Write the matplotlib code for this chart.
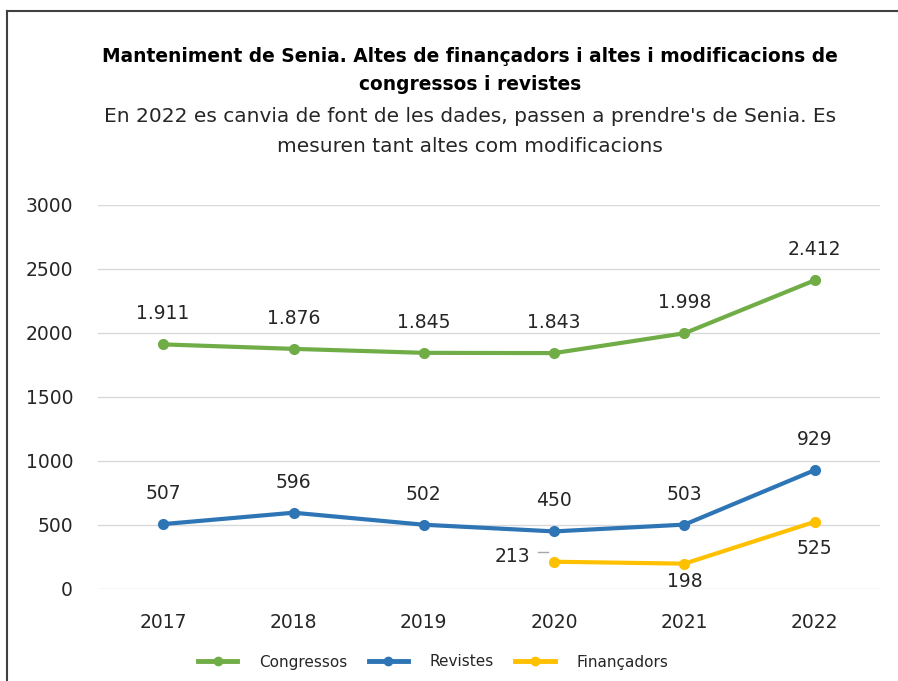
import matplotlib
matplotlib.use("Agg")
import matplotlib.pyplot as plt
from matplotlib.lines import Line2D

years = ["2017", "2018", "2019", "2020", "2021", "2022"]
congressos = [1911, 1876, 1845, 1843, 1998, 2412]
revistes = [507, 596, 502, 450, 503, 929]
fin_years = ["2020", "2021", "2022"]
financadors = [213, 198, 525]
yticks = [0, 500, 1000, 1500, 2000, 2500, 3000]

title_lines = ["Manteniment de Senia. Altes de finançadors i altes i modificacions de",
               "congressos i revistes"]
subtitle_lines = ["En 2022 es canvia de font de les dades, passen a prendre's de Senia. Es",
                  "mesuren tant altes com modificacions"]

GREEN = "#70AD47"
BLUE = "#2E75B6"
YELLOW = "#FFC000"
TXT = "#262626"

plt.rcParams['font.family'] = ['DejaVu Sans']

fig = plt.figure(figsize=(8.98, 6.81), dpi=100)
ax = fig.add_axes([98/898, 1-589/681, (880-98)/898, (589-205)/681])

x = list(range(len(years)))
xf = [years.index(y) for y in fin_years]

ax.plot(x, congressos, color=GREEN, lw=3, marker='o', ms=7, solid_capstyle='round', zorder=3)
ax.plot(x, revistes, color=BLUE, lw=3, marker='o', ms=7, solid_capstyle='round', zorder=3)
ax.plot(xf, financadors, color=YELLOW, lw=3, marker='o', ms=7, solid_capstyle='round', zorder=3)

def fmt(v):
    return f"{v:,}".replace(",", ".")

for xi, v in zip(x, congressos):
    ax.annotate(fmt(v), (xi, v), xytext=(0, 22), textcoords='offset points',
                ha='center', va='center', fontsize=13.5, color=TXT)
for xi, v in zip(x, revistes):
    ax.annotate(fmt(v), (xi, v), xytext=(0, 22), textcoords='offset points',
                ha='center', va='center', fontsize=13.5, color=TXT)
# Financadors labels
ax.annotate(fmt(financadors[0]), (xf[0], financadors[0]), xytext=(-17, 4),
            textcoords='offset points', ha='right', va='center', fontsize=13.5, color=TXT)
offs_fin = [-13, -19]
for xi, v, o in zip(xf[1:], financadors[1:], offs_fin):
    ax.annotate(fmt(v), (xi, v), xytext=(0, o), textcoords='offset points',
                ha='center', va='center', fontsize=13.5, color=TXT)

ax.set_xlim(-0.5, len(years) - 0.5)
ax.set_ylim(0, 3000)
ax.set_yticks(yticks)
ax.set_yticklabels([str(t) for t in yticks])
ax.set_xticks(x)
ax.set_xticklabels(years)
ax.tick_params(axis='both', length=0, labelsize=13.5, labelcolor=TXT)
ax.tick_params(axis='y', pad=18)
ax.tick_params(axis='x', pad=17.5)
ax.grid(axis='y', color='#D9D9D9', lw=1)
ax.set_axisbelow(True)
for s in ax.spines.values():
    s.set_visible(False)

# leader line for the 213 label (pixel offsets from the point)
px, py = ax.transData.transform((xf[0], financadors[0]))
inv = fig.transFigure.inverted()
p1 = inv.transform((px - 16, py + 10))
p2 = inv.transform((px - 6, py + 10))
fig.add_artist(Line2D([p1[0], p2[0]], [p1[1], p2[1]], color='#A6A6A6', lw=1,
                      transform=fig.transFigure))

handles = [Line2D([], [], color=c, lw=3.5, marker='o', ms=6) for c in (GREEN, BLUE, YELLOW)]
fig.legend(handles, ["Congressos", "Revistes", "Finançadors"], loc='center',
           bbox_to_anchor=(433/898, 1-662/681), ncol=3, frameon=False, fontsize=11,
           handlelength=2.6, columnspacing=1.4, handletextpad=1.4, labelcolor=TXT)

for txt, yy in zip(title_lines, (57, 84)):
    fig.text(470/898, 1-yy/681, txt, ha='center', va='center',
             fontsize=13.4, fontweight='bold', color='black')
for txt, yy in zip(subtitle_lines, (117, 146)):
    fig.text(470/898, 1-yy/681, txt, ha='center', va='center',
             fontsize=14.5, color=TXT)

# outer border
fig.add_artist(Line2D([7/898, 7/898], [0, 1-11/681], color='#404040', lw=1.5, transform=fig.transFigure))
fig.add_artist(Line2D([7/898, 1], [1-11/681, 1-11/681], color='#404040', lw=1.5, transform=fig.transFigure))

fig.savefig("out.png", dpi=100)
